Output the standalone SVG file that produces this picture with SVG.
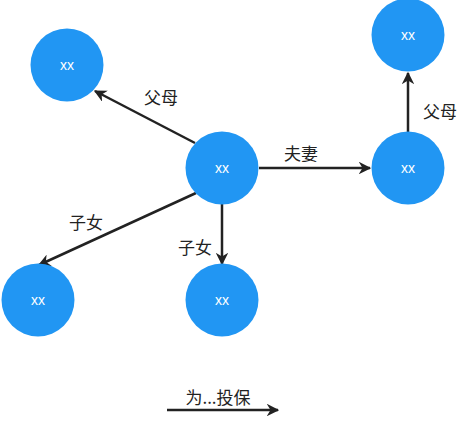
<svg xmlns="http://www.w3.org/2000/svg" width="474" height="422" viewBox="0 0 474 422">
<defs>
<style>
.node circle{fill:#2196F3;}
.node text{fill:#fff;font-family:"Liberation Sans",Arial,sans-serif;font-size:14px;text-anchor:middle;dominant-baseline:central;}
.edge{stroke:#222;stroke-width:2.5;fill:none;marker-end:url(#arr);}
.lbl{fill:#222;font-family:"Noto Sans CJK SC","Noto Sans",sans-serif;font-size:17px;text-anchor:middle;dominant-baseline:central;}
</style>
<marker id="arr" viewBox="0 0 10 10" refX="9" refY="5" markerWidth="5" markerHeight="5" orient="auto" markerUnits="strokeWidth">
<path d="M0,0 L10,5 L0,10 L3,5 z" fill="#222"/>
</marker>
</defs>
<rect width="474" height="422" fill="#fff"/>
<g id="connectors">
<line class="edge" x1="195" y1="143" x2="95" y2="91"/>
<line class="edge" x1="259" y1="168" x2="370" y2="168"/>
<line class="edge" x1="408" y1="133" x2="408" y2="73"/>
<line class="edge" x1="196" y1="193" x2="39" y2="265"/>
<line class="edge" x1="222" y1="204" x2="222" y2="264"/>
<line class="edge" x1="167" y1="410" x2="278" y2="410"/>
<text class="lbl" x="161" y="96">父母</text>
<text class="lbl" x="301" y="152">夫妻</text>
<text class="lbl" x="440" y="110">父母</text>
<text class="lbl" x="86" y="221">子女</text>
<text class="lbl" x="195" y="246">子女</text>
<text class="lbl" x="218" y="396">为...投保</text>
</g>
<g id="n_topleft" class="node"><circle cx="67" cy="65" r="36.5"/><text x="67" y="65">xx</text></g>
<g id="n_topright" class="node"><circle cx="408" cy="35" r="36.5"/><text x="408" y="35">xx</text></g>
<g id="n_center" class="node"><circle cx="222" cy="168" r="36.5"/><text x="222" y="168">xx</text></g>
<g id="n_right" class="node"><circle cx="408" cy="168" r="36.5"/><text x="408" y="168">xx</text></g>
<g id="n_botleft" class="node"><circle cx="38" cy="300" r="36.5"/><text x="38" y="300">xx</text></g>
<g id="n_botmid" class="node"><circle cx="222" cy="300" r="36.5"/><text x="222" y="300">xx</text></g>
</svg>
